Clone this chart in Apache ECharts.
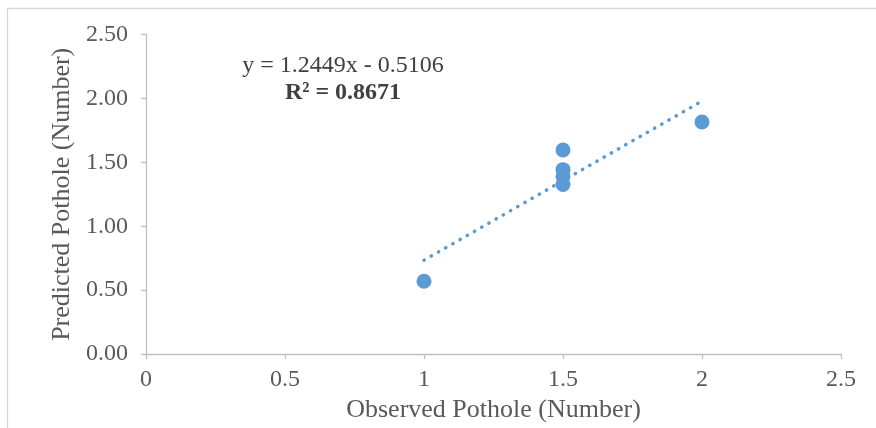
<!DOCTYPE html>
<html>
<head>
<meta charset="utf-8">
<script src="https://cdn.jsdelivr.net/npm/echarts@6/dist/echarts.min.js"></script>
<style>
html,body{margin:0;padding:0;background:#fff;}
#c{width:876px;height:428px;}
</style>
</head>
<body>
<div id="c"></div>
<script>
// Data
var observed  = [1, 1.5, 1.5, 1.5, 1.5, 2];
var predicted = [0.57, 1.597, 1.443, 1.39, 1.327, 1.815];
var xTicks = ['0', '0.5', '1', '1.5', '2', '2.5'];
var yTicks = ['0.00', '0.50', '1.00', '1.50', '2.00', '2.50'];
var slope = 1.2449, intercept = -0.5106, r2 = 0.8671;
var trendX = [1, 1.99];

var points = observed.map(function (x, i) { return [x, predicted[i]]; });
var trend = trendX.map(function (x) { return [x, slope * x + intercept]; });

var font = 'Liberation Serif, Times New Roman, serif';
var chart = echarts.init(document.getElementById('c'), null, {renderer: 'canvas'});
chart.setOption({
  animation: false,
  backgroundColor: '#fff',
  grid: {left: 146, top: 34.5, width: 695, height: 323, containLabel: false},
  xAxis: {
    type: 'value', min: 0, max: 2.5, interval: 0.5,
    name: 'Observed Pothole (Number)', nameLocation: 'middle', nameGap: 41,
    nameTextStyle: {fontFamily: font, fontSize: 26, color: '#595959'},
    axisLine: {show: true, lineStyle: {color: '#BFBFBF', width: 1.3}},
    axisTick: {show: true, inside: false, length: 5, lineStyle: {color: '#BFBFBF', width: 1.3}},
    axisLabel: {fontFamily: font, fontSize: 24, color: '#595959', margin: 14,
      formatter: function (v) { return xTicks[Math.round(v / 0.5)]; }},
    splitLine: {show: false}
  },
  yAxis: {
    type: 'value', min: 0, max: 2.5, interval: 0.5,
    name: 'Predicted Pothole (Number)', nameLocation: 'middle', nameGap: 67, nameRotate: 90,
    nameTextStyle: {fontFamily: font, fontSize: 26, color: '#595959'},
    axisLine: {show: true, lineStyle: {color: '#BFBFBF', width: 1.3}},
    axisTick: {show: true, inside: false, length: 5, lineStyle: {color: '#BFBFBF', width: 1.3}},
    axisLabel: {fontFamily: font, fontSize: 24, color: '#595959', margin: 18,
      formatter: function (v) { return yTicks[Math.round(v / 0.5)]; }},
    splitLine: {show: false}
  },
  series: [
    {
      type: 'line', data: trend, symbol: 'none', silent: true, z: 1,
      lineStyle: {color: '#5B9BD5', width: 3.5, type: [0.3, 8], cap: 'round'}
    },
    {
      type: 'scatter', data: points, symbol: 'circle', symbolSize: 15, z: 2,
      itemStyle: {color: '#5B9BD5', opacity: 1}
    }
  ],
  graphic: [
    {type: 'rect', shape: {x: 7.5, y: 8.5, width: 1000, height: 1000},
     style: {fill: 'none', stroke: '#D9D9D9', lineWidth: 1.3}, silent: true, z: -1},
    {type: 'text', x: 343, y: 66,
     style: {text: 'y = ' + slope + 'x - ' + Math.abs(intercept).toFixed(4), font: '24px ' + font,
       fill: '#404040', align: 'center', verticalAlign: 'middle'}},
    {type: 'text', x: 343, y: 93,
     style: {text: 'R² = ' + r2, font: 'bold 24px ' + font,
       fill: '#404040', align: 'center', verticalAlign: 'middle'}}
  ]
});
</script>
</body>
</html>
